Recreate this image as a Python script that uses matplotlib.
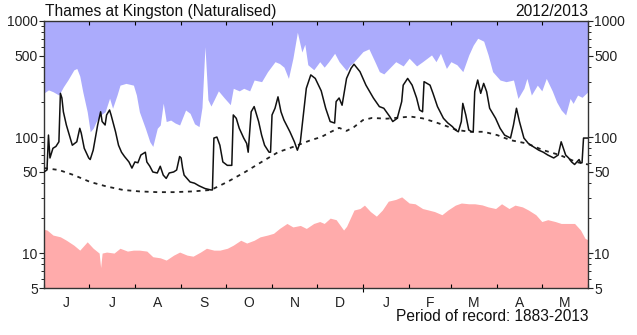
import numpy as np
import matplotlib
matplotlib.use('Agg')
import matplotlib.pyplot as plt
from matplotlib.ticker import FixedLocator, NullFormatter, FixedFormatter

plt.rcParams['font.family'] = ['Liberation Sans', 'DejaVu Sans']

# ---------------- data (day 0 = 1 June 2012) ----------------
month_labels = ['J', 'J', 'A', 'S', 'O', 'N', 'D', 'J', 'F', 'M', 'A', 'M']
month_starts = [0, 30, 61, 92, 122, 153, 183, 214, 245, 273, 304, 334, 365]
year_start = [214]

flow_days = [0, 2, 3, 4, 6, 8, 10, 11, 12, 13, 15, 17, 19, 22, 24, 25, 27, 30, 31, 33,
             36, 38, 39, 41, 42, 44, 45, 48, 50, 52, 54, 57, 59, 61, 63, 65, 68, 69, 71, 73,
             76, 78, 80, 82, 84, 87, 89, 91, 92, 93, 94, 98, 101, 104, 108, 112, 113, 114, 116, 118,
             120, 123, 126, 127, 129, 131, 134, 136, 137, 139, 141, 144, 146, 148, 151, 152, 153, 155, 157, 159,
             161, 165, 168, 170, 172, 174, 176, 179, 182, 186, 189, 192, 195, 196, 198, 200, 203, 206, 208, 212,
             216, 221, 225, 228, 232, 234, 237, 240, 241, 244, 247, 250, 252, 254, 255, 259, 261, 264, 268, 271,
             274, 276, 278, 280, 281, 283, 285, 287, 288, 289, 291, 293, 295, 297, 299, 303, 306, 309, 313, 315,
             317, 319, 322, 325, 328, 332, 335, 338, 342, 345, 347, 350, 352, 354, 356, 359, 360, 361, 362, 365]
flow_vals = [50, 52, 104, 66, 80, 83, 91, 238, 217, 165, 127, 104, 85, 91, 119, 108, 80, 66, 64, 77,
             127, 165, 136, 127, 155, 171, 155, 111, 85, 74, 68, 61, 54, 61, 60, 70, 74, 61, 56, 50,
             49, 56, 47, 44, 49, 50, 52, 68, 66, 54, 47, 41, 40, 38, 36, 35, 35, 98, 100, 85,
             61, 57, 57, 155, 145, 119, 98, 88, 74, 165, 183, 136, 104, 85, 74, 74, 155, 177, 222, 165,
             140, 111, 91, 77, 91, 155, 263, 343, 320, 250, 177, 136, 132, 202, 217, 188, 320, 391, 424, 366,
             280, 217, 183, 177, 150, 136, 145, 202, 280, 320, 280, 217, 171, 165, 300, 280, 238, 183, 145, 132,
             123, 115, 111, 136, 195, 155, 115, 111, 111, 246, 310, 238, 290, 246, 177, 145, 119, 104, 98, 127,
             177, 136, 98, 88, 83, 77, 74, 70, 66, 70, 91, 70, 66, 61, 58, 64, 60, 60, 98, 98]

mean_days = [0, 10, 20, 31, 42, 53, 64, 76, 87, 100, 112, 123, 135, 146, 157, 168, 179, 186, 192, 198,
             203, 208, 214, 220, 230, 238, 246, 254, 262, 268, 277, 286, 295, 304, 313, 324, 335, 346, 357, 365]
mean_vals = [54, 52, 47, 41, 37.5, 35, 34, 33.5, 33.5, 34, 35, 41, 50, 61, 74, 83, 94, 100, 110, 120,
             113, 122, 140, 146, 144, 147, 150, 145, 135, 127, 115, 111, 111, 104, 94, 88, 77, 70, 61, 58]

max_days = [0, 3, 6, 10, 13, 16, 20, 22, 24, 26, 29, 31, 33, 35, 38, 41, 44, 46, 49, 51,
            55, 60, 62, 64, 68, 71, 73, 76, 78, 80, 82, 85, 88, 91, 95, 98, 101, 104, 106, 108,
            110, 112, 114, 117, 121, 125, 127, 131, 134, 138, 141, 146, 150, 155, 158, 161, 164, 167, 170, 173,
            175, 177, 181, 185, 188, 191, 195, 198, 203, 205, 208, 214, 218, 222, 225, 228, 232, 236, 241, 245,
            250, 254, 260, 263, 266, 270, 273, 277, 281, 285, 288, 291, 295, 298, 301, 306, 310, 315, 318, 322,
            324, 327, 331, 334, 337, 341, 344, 347, 350, 353, 355, 358, 361, 365]
max_vals = [240, 255, 246, 230, 271, 310, 379, 390, 335, 246, 165, 111, 119, 136, 155, 165, 216, 177, 230, 280,
            290, 280, 230, 165, 119, 91, 83, 119, 127, 196, 136, 140, 132, 127, 171, 160, 130, 123, 180, 600,
            210, 185, 208, 250, 217, 190, 263, 250, 263, 250, 310, 300, 366, 446, 430, 400, 320, 477, 800, 540,
            630, 420, 380, 446, 400, 446, 527, 446, 373, 410, 446, 545, 575, 446, 366, 350, 395, 446, 410, 478,
            410, 446, 510, 446, 527, 390, 446, 420, 366, 510, 620, 710, 670, 510, 366, 310, 300, 310, 215, 263,
            320, 230, 280, 250, 320, 250, 200, 171, 155, 215, 195, 230, 220, 246]

min_days = [0, 2, 6, 11, 15, 20, 24, 29, 33, 37, 38, 39, 42, 47, 51, 56, 60, 64, 69, 73,
            78, 82, 87, 91, 96, 100, 105, 109, 114, 118, 123, 127, 132, 136, 141, 145, 150, 154, 158, 163,
            167, 172, 176, 181, 185, 188, 192, 196, 201, 203, 208, 212, 215, 219, 223, 227, 231, 236, 240, 245,
            249, 254, 258, 262, 267, 271, 276, 280, 285, 289, 294, 298, 303, 307, 312, 316, 321, 325, 330, 334,
            338, 343, 347, 352, 356, 360, 363, 365]
min_vals = [16, 15.8, 14.3, 13.8, 12.9, 11.7, 10.6, 12.5, 11, 10, 7.5, 10, 10.2, 10, 11, 10.4, 10.6, 10.6, 10.4, 9.3,
            9.1, 8.7, 9.6, 10.2, 9.6, 9.4, 10.2, 11, 10.6, 10.6, 11, 11.7, 12.9, 12.2, 12.9, 13.8, 14.3, 14.8, 16.3, 18,
            16.8, 17.3, 16.3, 18, 18.7, 18, 20, 19.4, 15.8, 17, 23.5, 24.2, 25.9, 22.8, 20.8, 23.5, 28, 29, 30.5, 27,
            26.6, 24.2, 23.5, 22.8, 21.4, 23.5, 25.9, 27, 26.6, 26.6, 26, 25, 24.2, 26.6, 24.2, 25.9, 25, 23.5, 21.4, 18.7,
            19.4, 18.7, 18, 18, 18, 15.8, 13.4, 13]

y_ticks = [5, 10, 50, 100, 500, 1000]
y_ticklabels = ['5', '10', '50', '100', '500', '1000']
title_left = 'Thames at Kingston (Naturalised)'
title_right = '2012/2013'
footer = 'Period of record: 1883-2013'

# ---------------- figure ----------------
W, H = 637, 335
fig = plt.figure(figsize=(W / 100, H / 100), dpi=100)
ax = fig.add_axes([44 / W, 1 - 288 / H, (588 - 44) / W, (288 - 21) / H])

ymin, ymax = 5, 1000
ax.set_yscale('log')
ax.set_ylim(ymin, ymax)
ax.set_xlim(month_starts[0], month_starts[-1])

blue = '#ABABFC'
pink = '#FFABAB'
ax.fill_between(max_days, max_vals, ymax, color=blue, lw=0, zorder=1)
ax.fill_between(min_days, ymin, min_vals, color=pink, lw=0, zorder=1)
ax.plot(mean_days, mean_vals, color='#222222', lw=1.3, ls=(0, (2.2, 2.6)), zorder=3)
ax.plot(flow_days, flow_vals, color='#111111', lw=1.1, zorder=4)

# y axis
ax.yaxis.set_major_locator(FixedLocator(y_ticks))
ax.yaxis.set_major_formatter(FixedFormatter(y_ticklabels))
minor = [m * 10 ** e for e in range(0, 3) for m in range(2, 10)]
minor = [v for v in minor if ymin < v < ymax and v not in y_ticks]
ax.yaxis.set_minor_locator(FixedLocator(minor))
ax.yaxis.set_minor_formatter(NullFormatter())
ax.tick_params(axis='y', which='major', left=True, right=True, labelleft=True, labelright=True,
               direction='out', length=3.5, width=0.8, pad=1, labelsize=10, colors='#222222')
ax.tick_params(axis='y', which='minor', left=True, right=True, direction='out', length=2, width=0.6)

# x axis: boundaries as major ticks, labels at month centres
ax.xaxis.set_major_locator(FixedLocator(month_starts))
ax.xaxis.set_major_formatter(NullFormatter())
centres = [(a + b) / 2 for a, b in zip(month_starts[:-1], month_starts[1:])]
ax.xaxis.set_minor_locator(FixedLocator(centres))
ax.xaxis.set_minor_formatter(FixedFormatter(month_labels))
ax.tick_params(axis='x', which='major', top=True, bottom=True, direction='in', length=3, width=0.8)
ax.tick_params(axis='x', which='minor', top=False, bottom=False, length=0, pad=6, labelsize=10,
               colors='#222222')

# year boundary marker below the axis
sec = ax.secondary_xaxis('bottom')
sec.set_xticks(year_start)
sec.set_xticklabels([''])
sec.tick_params(direction='out', length=3, width=0.8)
sec.spines['bottom'].set_visible(False)

for s in ax.spines.values():
    s.set_linewidth(1.0)
    s.set_color('#333333')

fig.text(45 / W, 1 - 16 / H, title_left, ha='left', va='baseline', fontsize=11.2, color='#111111')
fig.text(588 / W, 1 - 16 / H, title_right, ha='right', va='baseline', fontsize=11.2, color='#111111')
fig.text(588 / W, 1 - 321 / H, footer, ha='right', va='baseline', fontsize=11.2, color='#111111')

fig.savefig('out.png', dpi=100)
